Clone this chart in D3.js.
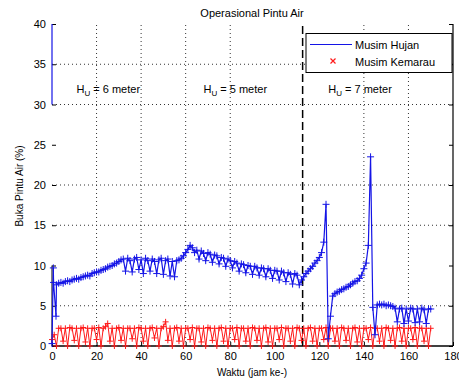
<!DOCTYPE html>
<html><head><meta charset="utf-8">
<script src="https://cdn.jsdelivr.net/npm/d3@7"></script>
<style>
body{margin:0;background:#fff;}
svg{display:block;font-family:"Liberation Sans",Arial,sans-serif;}
</style></head>
<body><svg id="c" width="459" height="381"></svg>
<script>
const xTicks=[0,20,40,60,80,100,120,140,160,180];
const yTicks=[0,5,10,15,20,25,30,35,40];
const xGrid=[20,40,60,80,140,160];
const yGrid=[5,15,20,30,35];
const boundary=[112.5];
const annoX=[11,68,124];
const annoVal=["6","5","7"];
const legendLabels=["Musim Hujan","Musim Kemarau"];

const blueX=[0,0.6,0.7,1.8,2,3,4,5,6,7,8,9,10,11,12,13,14,15,16,17,18,19,20,21,22,23,24,25,26,27,28,29,30,31,32,
33,34,35,36,37,38,39,40,41,42,43,44,45,46,47,48,49,50,51,52,53,54,55,56,57,58,59,60,61,62,63,
64,65,66,67,68,69,70,71,72,73,74,75,76,77,78,79,80,81,82,83,84,85,86,87,88,89,90,91,92,93,94,95,96,97,98,99,100,101,102,103,104,105,106,107,108,109,110,111,112,
113,114,115,116,117,118,119,120,121,122,123,124,125,126,127,128,129,130,131,132,133,134,135,136,137,138,139,140,141,142,143,144,145,
146,147,148,149,150,151,152,153,154,155,156,157,158,159,160,161,162,163,164,165,166,167,168,169,170];
const blueY=[0.3,9.7,7.9,3.7,7.6,7.8,7.9,7.8,8.0,8.1,8.0,8.2,8.3,8.4,8.3,8.5,8.6,8.7,8.8,8.7,9.0,9.1,9.2,9.2,9.4,9.5,9.6,9.8,9.9,10.0,10.2,10.3,10.5,10.7,10.8,
9.3,10.9,10.6,9.2,10.8,11.0,9.5,10.7,9.0,10.9,10.6,9.3,10.8,10.5,9.0,10.7,10.9,8.9,10.6,10.8,8.7,10.5,8.6,10.6,10.7,10.9,11.2,11.6,12.0,12.5,12.2,
11.6,11.9,10.8,11.8,11.5,10.6,11.6,11.4,10.4,11.3,11.2,10.2,11.0,10.9,9.9,10.8,10.6,9.7,10.5,10.3,9.3,10.2,10.1,9.1,10.0,9.9,8.9,9.9,9.7,8.8,9.7,9.6,8.6,9.6,9.4,8.4,9.4,9.3,8.2,9.3,9.1,8.0,9.1,8.9,7.7,9.0,8.8,7.6,8.2,
8.6,9.0,9.3,9.6,9.9,10.3,10.6,11.0,11.6,12.9,17.6,0.9,3.7,6.2,6.5,6.7,6.8,7.0,7.1,7.3,7.4,7.6,7.8,8.0,8.1,8.4,8.8,9.6,10.3,12.5,23.5,4.8,1.4,
5.1,5.2,5.1,5.2,5.0,5.1,5.0,4.9,4.7,3.0,4.6,4.7,2.8,4.6,3.1,4.7,4.6,2.9,4.6,3.0,4.7,4.5,2.8,4.6,4.6];
const blueEdgeY=[30,40];

const redY=[0.8,1.4,0,2.2,2.2,0.6,2.2,0,2.3,2.2,0.7,2.2,0,2.2,2.3,0.5,2.2,0,2.2,2.2,0.8,2.3,0,2.2,2.4,2.8,0.6,2.2,0,2.2,
2.3,0.7,2.2,0,2.2,2.2,0.9,2.2,0,2.3,2.2,0.6,2.2,0,2.2,2.3,1.0,2.2,0,2.2,2.4,3.0,0.7,2.2,0,2.2,
2.3,0.6,2.2,0,2.2,2.2,0.8,2.3,0,2.2,2.2,0.5,2.2,0,2.3,2.2,0.7,2.2,0,2.2,2.3,0.6,2.2,0,2.2,2.2,0.8,2.3,0,2.2,2.2,0.6,2.2,0,
2.3,2.2,0.7,2.2,0,2.2,2.3,0.5,2.2,0,2.2,2.2,0.8,2.3,0,2.2,2.2,0.6,2.2,0,2.3,2.2,0.7,2.2,0,2.2,2.3,0.6,2.2,0,2.2,2.2,0.8,2.3,
0,2.2,2.2,0.6,2.2,0,2.3,2.2,0.7,2.2,0,2.2,2.3,0.5,2.2,0,2.2,2.2,0.8,2.3,0,2.2,2.2,0.6,2.2,0,2.3,2.2,0.7,2.2,0,2.2,2.3,0.6,
2.2,0,2.2,2.2,0.8,2.3,0,2.2,2.2,0.6,2.2,0,2.2];
const redX=redY.map((d,i)=>i);

const svg=d3.select("#c");
const x=d3.scaleLinear().domain([0,180]).range([52,453]);
const y=d3.scaleLinear().domain([0,40]).range([346,24]);
const BLUE="#1414e6", RED="#ff1a1a";

// grid
svg.append("g").selectAll("line").data(xGrid).join("line")
  .attr("x1",d=>x(d)).attr("x2",d=>x(d)).attr("y1",y(0)).attr("y2",y(40))
  .attr("stroke","#333").attr("stroke-width",1).attr("stroke-dasharray","1,3");
svg.append("g").selectAll("line").data(yGrid).join("line")
  .attr("y1",d=>y(d)).attr("y2",d=>y(d)).attr("x1",x(0)).attr("x2",x(180))
  .attr("stroke","#333").attr("stroke-width",1).attr("stroke-dasharray","1,3");
// boundary dashed
svg.append("g").selectAll("line").data(boundary).join("line")
  .attr("x1",d=>x(d)).attr("x2",d=>x(d)).attr("y1",y(0)).attr("y2",y(40))
  .attr("stroke","#000").attr("stroke-width",1.5).attr("stroke-dasharray","8,4");

// axes
const ax=svg.append("g").attr("transform",`translate(0,${y(0)})`)
  .call(d3.axisBottom(x).tickValues(xTicks).tickSizeInner(-4).tickSizeOuter(0).tickPadding(6));
ax.select(".domain").remove();
ax.selectAll("text").attr("font-size",11).attr("fill","#000").attr("font-family","Liberation Sans, Arial, sans-serif");
ax.selectAll(".tick line").attr("stroke","#000");
const ay=svg.append("g").attr("transform",`translate(${x(0)},0)`)
  .call(d3.axisLeft(y).tickValues(yTicks).tickSizeInner(-4).tickSizeOuter(0).tickPadding(6));
ay.select(".domain").remove();
ay.selectAll("text").attr("font-size",11).attr("fill","#000").attr("font-family","Liberation Sans, Arial, sans-serif");
ay.selectAll(".tick line").attr("stroke","#000");
const ar=svg.append("g").attr("transform",`translate(${x(180)},0)`)
  .call(d3.axisRight(y).tickValues(yTicks).tickSizeInner(-4).tickSizeOuter(0).tickFormat(""));
ar.select(".domain").remove();
ar.selectAll(".tick line").attr("stroke","#000");
// frame lines
svg.append("line").attr("x1",x(180)).attr("x2",x(180)).attr("y1",y(0)).attr("y2",y(40)).attr("stroke","#000").attr("stroke-width",1.2);
svg.append("line").attr("x1",x(0)).attr("x2",x(180)).attr("y1",y(0)).attr("y2",y(0)).attr("stroke","#000").attr("stroke-width",1.5);
svg.append("line").attr("x1",x(0)).attr("x2",x(0)).attr("y1",y(0)).attr("y2",y(10)).attr("stroke","#000").attr("stroke-width",1);
svg.append("line").attr("x1",x(0)).attr("x2",x(0)).attr("y1",y(blueEdgeY[0])).attr("y2",y(blueEdgeY[1])).attr("stroke",BLUE).attr("stroke-width",1.2);

// series lines
const line=d3.line().x(d=>x(d[0])).y(d=>y(d[1]));
const redPts=redX.map((d,i)=>[d,redY[i]]);
const bluePts=blueX.map((d,i)=>[d,blueY[i]]);
svg.append("path").datum(redPts).attr("d",line).attr("fill","none").attr("stroke",RED).attr("stroke-width",1);
const plus=(s)=>`M${-s},0H${s}M0,${-s}V${s}`;
svg.append("g").selectAll("path").data(redPts).join("path")
  .attr("transform",d=>`translate(${x(d[0])},${y(d[1])})`).attr("d",plus(3))
  .attr("stroke",RED).attr("stroke-width",1).attr("fill","none");
svg.append("path").datum(bluePts).attr("d",line).attr("fill","none").attr("stroke",BLUE).attr("stroke-width",1.2);
svg.append("g").selectAll("path").data(bluePts).join("path")
  .attr("transform",d=>`translate(${x(d[0])},${y(d[1])})`).attr("d",plus(3.5))
  .attr("stroke",BLUE).attr("stroke-width",1).attr("fill","none");

// annotations
annoX.forEach((v,i)=>{
  const t=svg.append("text").attr("x",x(v)).attr("y",y(31.4)).attr("font-size",11).attr("fill","#000");
  t.append("tspan").text("H");
  t.append("tspan").attr("font-size",8).attr("dy",3).text("U");
  t.append("tspan").attr("dy",-3).text(" = "+annoVal[i]+" meter");
});

// title & labels
svg.append("text").attr("x",252).attr("y",17).attr("text-anchor","middle").attr("font-size",11).text("Operasional Pintu Air");
svg.append("text").attr("x",252).attr("y",376).attr("text-anchor","middle").attr("font-size",10).text("Waktu (jam ke-)");
svg.append("text").attr("transform","translate(23,186) rotate(-90)").attr("text-anchor","middle").attr("font-size",10).text("Buka Pintu Air (%)");

// legend
const lg=svg.append("g");
lg.append("rect").attr("x",306).attr("y",33.5).attr("width",146).attr("height",39).attr("fill","#fff").attr("stroke","#000").attr("stroke-width",1);
lg.append("line").attr("x1",310).attr("x2",352).attr("y1",44.5).attr("y2",44.5).attr("stroke",BLUE).attr("stroke-width",1.2);
lg.append("path").attr("transform","translate(333,61)").attr("d","M-2.5,-2.5L2.5,2.5M-2.5,2.5L2.5,-2.5").attr("stroke",RED).attr("stroke-width",1.2);
lg.selectAll("text").data(legendLabels).join("text").attr("x",355).attr("y",(d,i)=>49+i*17).attr("font-size",11).text(d=>d);
</script></body></html>
